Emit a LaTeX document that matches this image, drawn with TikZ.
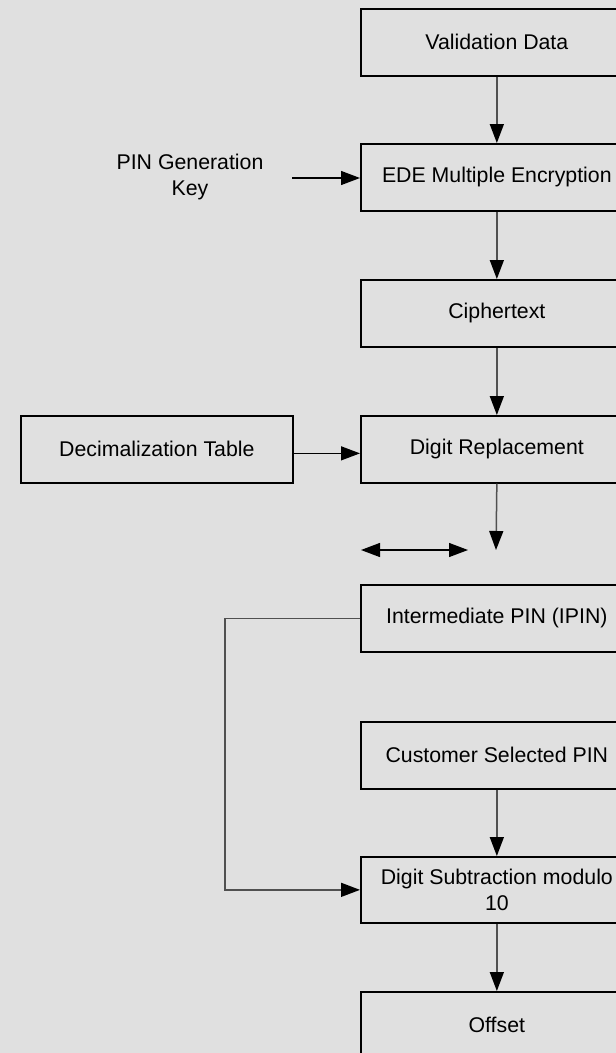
\documentclass[tikz,border=0pt]{standalone}
\usepackage{fontspec}
\setmainfont{Liberation Sans}
\usetikzlibrary{arrows.meta}
\definecolor{bg}{HTML}{E0E0E0}
\definecolor{conn}{HTML}{505050}
\begin{document}
\begin{tikzpicture}[x=1pt,y=-1pt,
  box/.style={draw=black, line width=1.7pt, fill=bg, minimum width=272pt, minimum height=67pt,
    anchor=north west, inner sep=0pt, align=center, font=\fontsize{21.3}{26.5}\selectfont},
  lbl/.style={align=center, inner sep=0pt, font=\fontsize{21.3}{26.5}\selectfont},
  conn/.style={draw=conn, line width=1.5pt, -{Triangle[length=19pt,width=14pt,fill=black,color=black]}},
]
\useasboundingbox (0,0) rectangle (616,1053);
\clip (0,0) rectangle (616,1053);
\fill[bg] (0,0) rectangle (616,1053);

\node[box] (vd)   at (360,8)   {Validation Data};
\node[box] (ede)  at (360,143) {EDE Multiple Encryption};
\node[box] (ct)   at (360,279) {Ciphertext};
\node[box] (dr)   at (360,415) {Digit Replacement};
\node[box] (ipin) at (360,584) {Intermediate PIN (IPIN)};
\node[box] (csp)  at (360,721) {Customer Selected PIN};
\node[box, minimum height=66pt] (ds) at (360,856) {Digit Subtraction modulo\\10};
\node[box] (off)  at (360,991) {Offset};
\node[box] (dec) at (20,415) {Decimalization Table};

\node[lbl] (pgk) at (190,177) {PIN Generation\\Key};
\coordinate (pgkend) at (292,178);
\coordinate (drend) at (496,550);
\coordinate (dbl1) at (361,550);
\coordinate (dbl2) at (468,550);

\draw[conn] (vd.south) -- (ede.north);
\draw[conn] (ede.south) -- (ct.north);
\draw[conn] (ct.south) -- (dr.north);
\draw[conn] (dr.south) -- (drend);
\draw[conn] (csp.south) -- (ds.north);
\draw[conn] (ds.south) -- (off.north);
\draw[conn, draw=black, line width=1.3pt] (pgkend) -- (pgkend -| ede.west);
\draw[conn, draw=black, line width=1.3pt] ([yshift=-4pt]dec.east) -- ([yshift=-4pt]dec.east -| dr.west);
\draw[draw=black, line width=1.3pt, {Triangle[length=19pt,width=14pt]}-{Triangle[length=19pt,width=14pt]}] (dbl1) -- (dbl2);
\draw[conn] (ipin.west) -- ++(-135,0) |- (ds.west);
\end{tikzpicture}
\end{document}
